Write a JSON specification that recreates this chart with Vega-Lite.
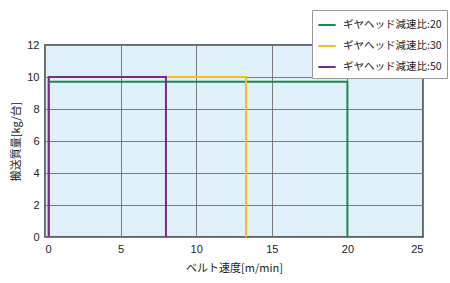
{
  "$schema": "https://vega.github.io/schema/vega-lite/v6.json",
  "autosize": {"type": "none"},
  "padding": {"left": 45, "top": 45, "right": 27, "bottom": 46},
  "width": 378,
  "height": 192,
  "background": "white",
  "config": {
    "view": {"fill": "#dff0fa", "stroke": "#333333", "strokeWidth": 1.5},
    "font": "Liberation Sans"
  },
  "data": {
    "values": [
      {"series": "ギヤヘッド減速比:20", "x": 0.25, "y": 0, "o": 1},
      {"series": "ギヤヘッド減速比:20", "x": 0.25, "y": 9.7, "o": 2},
      {"series": "ギヤヘッド減速比:20", "x": 20, "y": 9.7, "o": 3},
      {"series": "ギヤヘッド減速比:20", "x": 20, "y": 0, "o": 4},
      {"series": "ギヤヘッド減速比:30", "x": 0.25, "y": 0, "o": 1},
      {"series": "ギヤヘッド減速比:30", "x": 0.25, "y": 10, "o": 2},
      {"series": "ギヤヘッド減速比:30", "x": 13.3, "y": 10, "o": 3},
      {"series": "ギヤヘッド減速比:30", "x": 13.3, "y": 0, "o": 4},
      {"series": "ギヤヘッド減速比:50", "x": 0.25, "y": 0, "o": 1},
      {"series": "ギヤヘッド減速比:50", "x": 0.25, "y": 10, "o": 2},
      {"series": "ギヤヘッド減速比:50", "x": 8, "y": 10, "o": 3},
      {"series": "ギヤヘッド減速比:50", "x": 8, "y": 0, "o": 4}
    ]
  },
  "mark": {"type": "line", "strokeWidth": 2, "clip": true},
  "encoding": {
    "x": {
      "field": "x", "type": "quantitative",
      "scale": {"domain": [0, 25], "nice": false, "zero": true},
      "axis": {
        "values": [0, 5, 10, 15, 20, 25],
        "title": "ベルト速度[m/min]",
        "titleFont": "Noto Sans CJK JP",
        "titleFontSize": 11,
        "titleFontWeight": "normal",
        "titleColor": "#222222",
        "titlePadding": 8,
        "labelFontSize": 11,
        "labelColor": "#222222",
        "labelPadding": 6,
        "ticks": false,
        "domain": false,
        "grid": true,
        "gridColor": "#7a7a7a",
        "gridWidth": 1
      }
    },
    "y": {
      "field": "y", "type": "quantitative",
      "scale": {"domain": [0, 12], "nice": false},
      "axis": {
        "values": [0, 2, 4, 6, 8, 10, 12],
        "title": "搬送質量[kg/台]",
        "titleFont": "Noto Sans CJK JP",
        "titleFontSize": 11,
        "titleFontWeight": "normal",
        "titleColor": "#222222",
        "titlePadding": 5,
        "labelFontSize": 11,
        "labelColor": "#222222",
        "labelPadding": 6,
        "ticks": false,
        "domain": false,
        "grid": true,
        "gridColor": "#7a7a7a",
        "gridWidth": 1
      }
    },
    "color": {
      "field": "series", "type": "nominal",
      "scale": {
        "domain": ["ギヤヘッド減速比:20", "ギヤヘッド減速比:30", "ギヤヘッド減速比:50"],
        "range": ["#1b8a4c", "#f5c01e", "#7a2a88"]
      },
      "legend": {
        "title": null,
        "orient": "none",
        "legendX": 267,
        "legendY": -35,
        "direction": "vertical",
        "fillColor": "white",
        "strokeColor": "#999999",
        "padding": 5,
        "symbolType": "stroke",
        "symbolSize": 300,
        "symbolStrokeWidth": 2,
        "labelFont": "Noto Sans CJK JP",
        "labelFontSize": 10.5,
        "labelColor": "#222222",
        "labelOffset": 6,
        "rowPadding": 5
      }
    },
    "order": {"field": "o", "type": "quantitative"}
  }
}
